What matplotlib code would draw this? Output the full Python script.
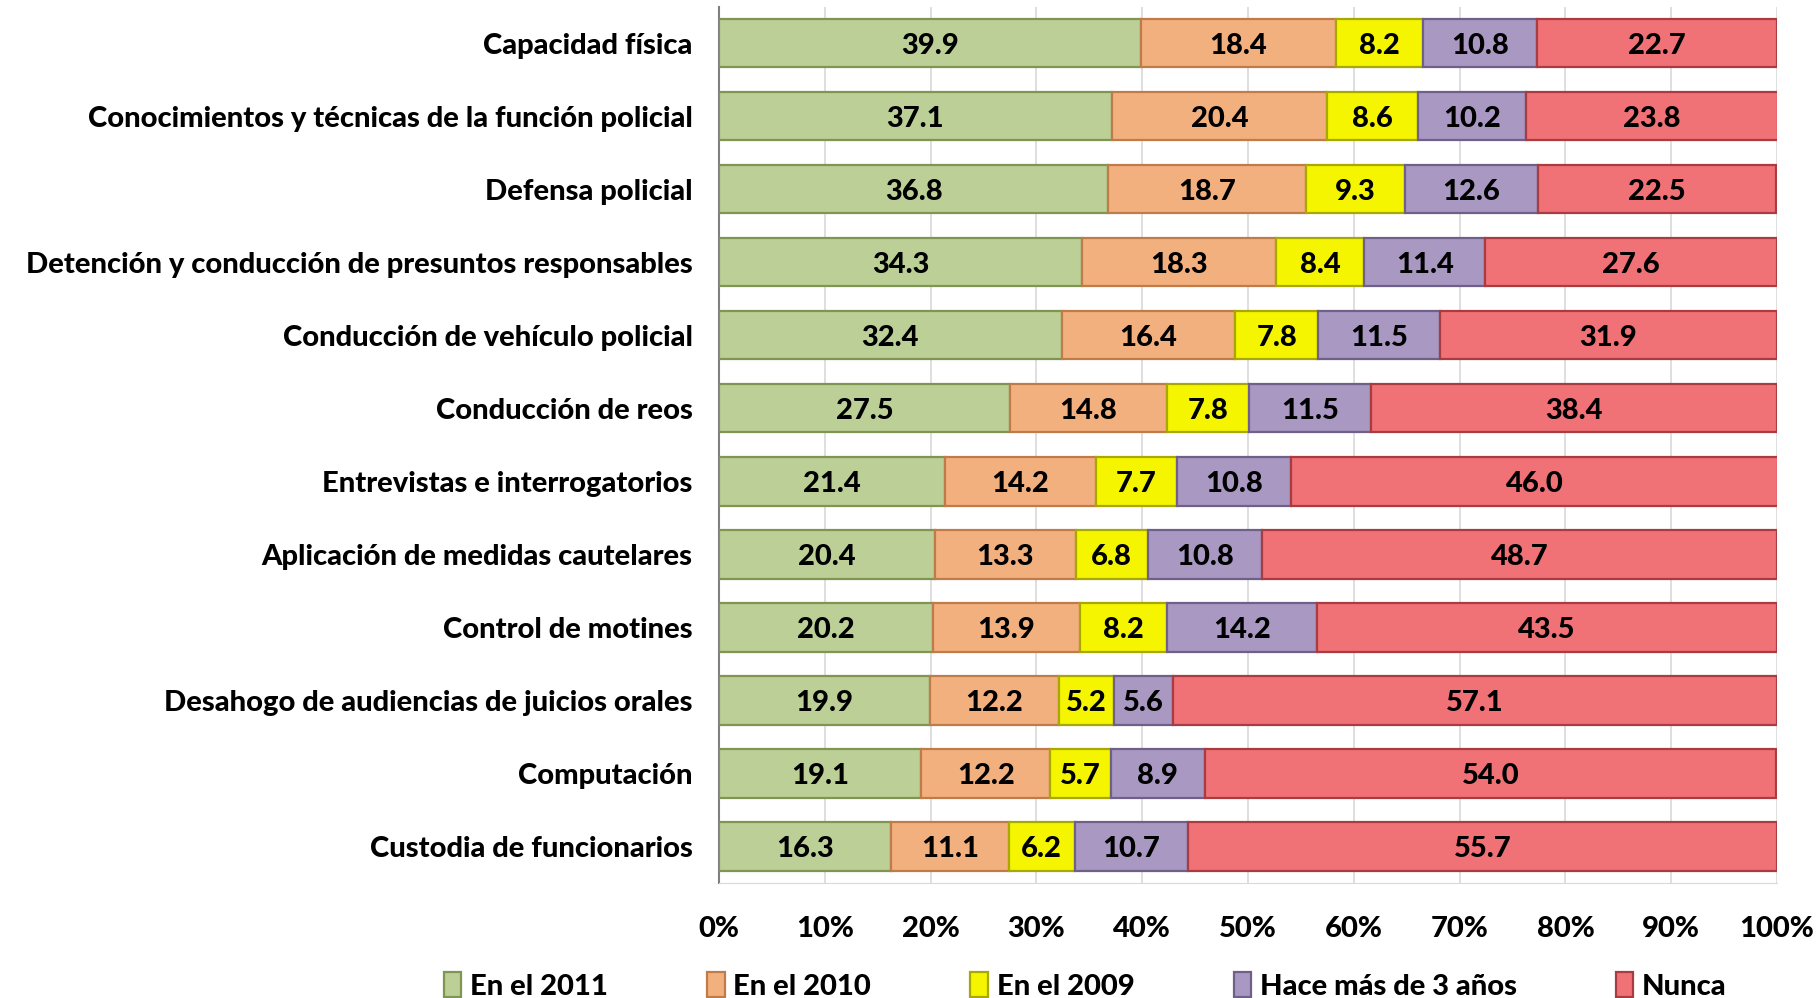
import matplotlib
matplotlib.use("Agg")
import matplotlib.pyplot as plt
import numpy as np

plt.rcParams["font.family"] = ["Lato", "DejaVu Sans"]
plt.rcParams["font.weight"] = "black"

categories = [
    "Capacidad física",
    "Conocimientos y técnicas de la función policial",
    "Defensa policial",
    "Detención y conducción de presuntos responsables",
    "Conducción de vehículo policial",
    "Conducción de reos",
    "Entrevistas e interrogatorios",
    "Aplicación de medidas cautelares",
    "Control de motines",
    "Desahogo de audiencias de juicios orales",
    "Computación",
    "Custodia de funcionarios",
]
en_2011 = [39.9, 37.1, 36.8, 34.3, 32.4, 27.5, 21.4, 20.4, 20.2, 19.9, 19.1, 16.3]
en_2010 = [18.4, 20.4, 18.7, 18.3, 16.4, 14.8, 14.2, 13.3, 13.9, 12.2, 12.2, 11.1]
en_2009 = [8.2, 8.6, 9.3, 8.4, 7.8, 7.8, 7.7, 6.8, 8.2, 5.2, 5.7, 6.2]
hace_3 = [10.8, 10.2, 12.6, 11.4, 11.5, 11.5, 10.8, 10.8, 14.2, 5.6, 8.9, 10.7]
nunca = [22.7, 23.8, 22.5, 27.6, 31.9, 38.4, 46.0, 48.7, 43.5, 57.1, 54.0, 55.7]

series = [
    ("En el 2011", en_2011, "#BBCF97", "#7E9652"),
    ("En el 2010", en_2010, "#F3B07F", "#C07C48"),
    ("En el 2009", en_2009, "#F5F500", "#A8A800"),
    ("Hace más de 3 años", hace_3, "#A898C2", "#6E6088"),
    ("Nunca", nunca, "#F07176", "#A83C40"),
]

fig = plt.figure(figsize=(18.18, 9.98), dpi=100)
ax = fig.add_axes([0.3955, 0.1152, 0.582, 0.878])

y = np.arange(len(categories))
left = np.zeros(len(categories))
for name, vals, face, edge in series:
    vals = np.array(vals)
    ax.barh(y, vals, left=left, height=0.66, color=face,
            edgecolor=edge, linewidth=1.6, label=name, zorder=3)
    for yi, l, v in zip(y, left, vals):
        ax.text(l + v / 2, yi, f"{v:.1f}", ha="center", va="center_baseline",
                fontsize=21, fontweight="black", color="black", zorder=4)
    left += vals

ax.set_xlim(0, 100)
ax.set_ylim(len(categories) - 0.5, -0.5)
ax.set_xticks(np.arange(0, 101, 10))
ax.set_xticklabels([f"{t}%" for t in range(0, 101, 10)])
ax.set_yticks(y)
ax.set_yticklabels(categories, va="center_baseline")
ax.tick_params(axis="x", length=0, pad=24, labelsize=21)
ax.tick_params(axis="y", length=0, pad=19, labelsize=21)
ax.grid(axis="x", color="#D9D9D9", linewidth=1.2, zorder=0)

for side in ["top", "right"]:
    ax.spines[side].set_visible(False)
ax.spines["left"].set_color("#808080")
ax.spines["left"].set_linewidth(1.5)
ax.spines["bottom"].set_color("#D9D9D9")

fig.legend(loc="center", bbox_to_anchor=(0.597, 0.012), ncol=5, frameon=False,
           fontsize=21, handlelength=0.6, handleheight=0.9, handletextpad=0.3,
           columnspacing=3.4)

fig.savefig("out.png", dpi=100)
